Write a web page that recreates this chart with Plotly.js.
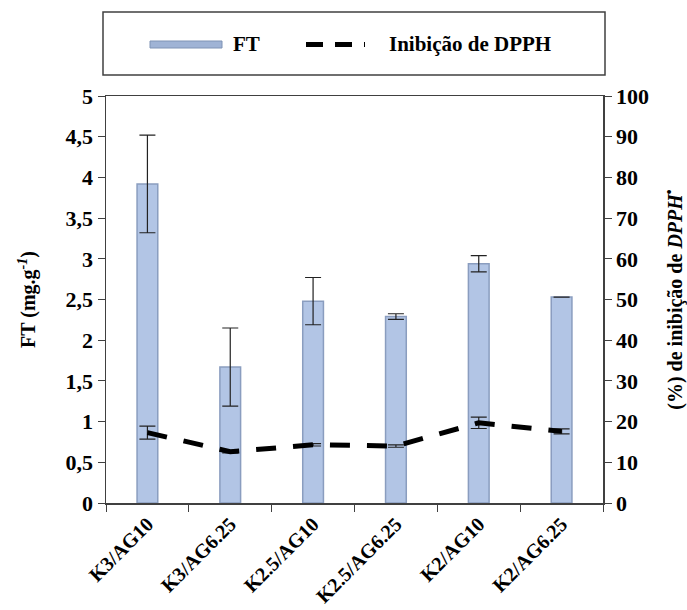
<!DOCTYPE html>
<html>
<head>
<meta charset="utf-8">
<script src="https://cdn.plot.ly/plotly-3.0.1.min.js"></script>
<style>html,body{margin:0;padding:0;background:#fff;}#chart{width:687px;height:610px;}</style>
</head>
<body>
<div id="chart"></div>
<script>
const categories = ["K3/AG10", "K3/AG6.25", "K2.5/AG10", "K2.5/AG6.25", "K2/AG10", "K2/AG6.25"];
const ftValues = [3.92, 1.67, 2.48, 2.29, 2.94, 2.53];
const ftErrors = [0.60, 0.48, 0.29, 0.035, 0.10, 0];
const dpphValues = [17.3, 12.6, 14.3, 14.0, 19.7, 17.6];
const dpphErrors = [1.6, 0.3, 0.3, 0.3, 1.4, 0.6];

const fontFam = 'Liberation Serif, Times New Roman, serif';
const axisColor = '#404040';

const traces = [
  {
    type: 'bar', name: 'FT', x: categories, y: ftValues,
    width: 0.25,
    marker: {color: '#b2c5e5', line: {color: '#8a9dbf', width: 1.5}},
    error_y: {type: 'data', array: ftErrors, visible: true, color: '#222', thickness: 1.2, width: 8},
    showlegend: false
  },
  {
    type: 'scatter', mode: 'lines', name: 'Inibição de DPPH', x: categories, y: dpphValues,
    yaxis: 'y2',
    line: {color: '#000', width: 5, dash: '20px,17px'},
    error_y: {type: 'data', array: dpphErrors, visible: true, color: '#222', thickness: 1.2, width: 8},
    showlegend: false
  }
];

const layout = {
  width: 687, height: 610,
  margin: {l: 106, r: 84, t: 96, b: 107},
  paper_bgcolor: '#fff', plot_bgcolor: '#fff',
  separators: ',.',
  font: {family: fontFam, size: 20, color: '#000', weight: 'bold'},
  showlegend: false,
  xaxis: {
    type: 'category', tickson: 'boundaries', ticks: 'outside', ticklen: 7, tickcolor: axisColor,
    showline: true, linecolor: axisColor, linewidth: 1.5, mirror: true,
    tickangle: -45, tickfont: {family: fontFam, size: 20, weight: 'bold', color: '#000'},
    showgrid: false, zeroline: false, automargin: false
  },
  yaxis: {
    range: [0, 5], dtick: 0.5, ticks: 'outside', ticklen: 7, tickcolor: axisColor,
    showline: true, linecolor: axisColor, linewidth: 1.5, showgrid: false, zeroline: false,
    tickfont: {family: fontFam, size: 22, weight: 'bold', color: '#000'},
    title: {text: 'FT (mg.g<sup><i>-1</i></sup>)', font: {family: fontFam, size: 20, weight: 'bold', color: '#000'}, standoff: 24},
    automargin: false
  },
  yaxis2: {
    overlaying: 'y', side: 'right', range: [0, 100], dtick: 10, ticks: 'outside', ticklen: 7, tickcolor: axisColor,
    showline: true, linecolor: axisColor, linewidth: 1.5, showgrid: false, zeroline: false,
    tickfont: {family: fontFam, size: 22, weight: 'bold', color: '#000'},
    title: {text: '(%) de inibição de <i>DPPH</i><sup>•</sup>', font: {family: fontFam, size: 20, weight: 'bold', color: '#000'}, standoff: 20},
    automargin: false
  },
  shapes: [
    {type: 'rect', xref: 'paper', yref: 'paper', x0: (103-106)/497, x1: (605-106)/497, y0: (503-75)/407, y1: (503-12)/407,
     line: {color: axisColor, width: 1.5}, fillcolor: 'rgba(0,0,0,0)'},
    {type: 'rect', xref: 'paper', yref: 'paper', x0: (150-106)/497, x1: (222-106)/497, y0: (503-48)/407, y1: (503-41)/407,
     line: {color: '#7f93b5', width: 1}, fillcolor: '#9fb3d5'},
    {type: 'line', xref: 'paper', yref: 'paper', x0: (306-106)/497, x1: (365-106)/497, y0: (503-44.5)/407, y1: (503-44.5)/407,
     line: {color: '#000', width: 5, dash: '17px,12px'}}
  ],
  annotations: [
    {xref: 'paper', yref: 'paper', x: (231-106)/497, y: (503-44.5)/407, xanchor: 'left', yanchor: 'middle', showarrow: false,
     text: 'FT', font: {family: fontFam, size: 21, weight: 'bold', color: '#000'}},
    {xref: 'paper', yref: 'paper', x: (387-106)/497, y: (503-44.5)/407, xanchor: 'left', yanchor: 'middle', showarrow: false,
     text: 'Inibição de DPPH', font: {family: fontFam, size: 21, weight: 'bold', color: '#000'}}
  ]
};

Plotly.newPlot('chart', traces, layout, {displayModeBar: false, staticPlot: true});
</script>
</body>
</html>
